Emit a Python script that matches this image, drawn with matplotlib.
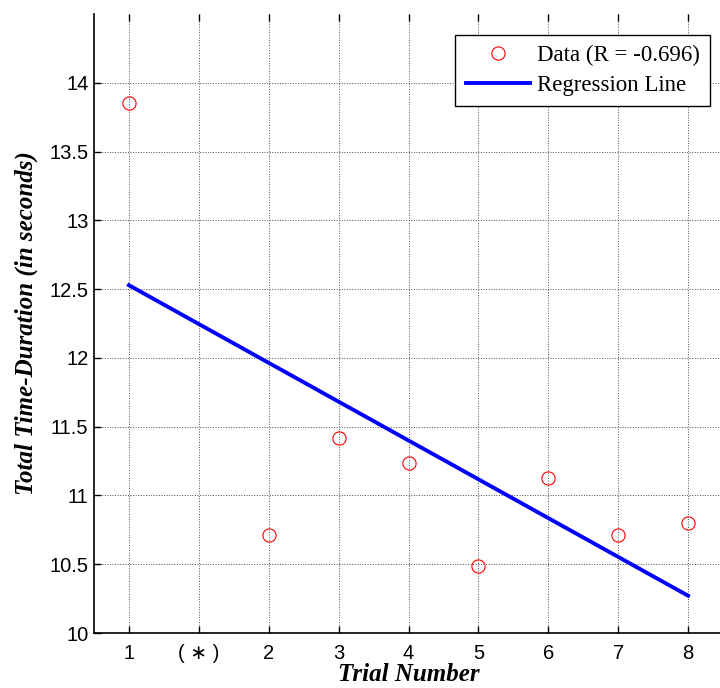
import matplotlib.pyplot as plt
import numpy as np
from matplotlib.ticker import FormatStrFormatter

plt.rcParams['font.family'] = ['Liberation Sans', 'DejaVu Sans']

# x positions: slot 1 is an unlabelled gap marked "(*)"
tick_labels = ['1', '( \u2217 )', '2', '3', '4', '5', '6', '7', '8']
trial_pos = [0, 2, 3, 4, 5, 6, 7, 8]
durations = [13.855, 10.713, 11.42, 11.235, 10.49, 11.128, 10.71, 10.80]
y_ticks = [10, 10.5, 11, 11.5, 12, 12.5, 13, 13.5, 14]

slope, icpt = np.polyfit(trial_pos, durations, 1)
fit_x = np.array([trial_pos[0], trial_pos[-1]])
fit_y = slope * fit_x + icpt

fig = plt.figure(figsize=(7.2, 6.88), dpi=100)
ax = fig.add_axes([94 / 720, 55 / 688, 629 / 720, 619 / 688])

ax.plot(trial_pos, durations, 'o', mfc='none', mec='red', ms=9.5, mew=0.8,
        linestyle='none', label='Data (R = -0.696)')
ax.plot(fit_x, fit_y, '-', color='blue', lw=2.8, label='Regression Line')

ax.set_xlim(-0.5, 8.5)
ax.set_ylim(10, 14.5)
ax.set_xticks(range(len(tick_labels)))
ax.set_xticklabels(tick_labels)
ax.set_yticks(y_ticks)
ax.yaxis.set_major_formatter(FormatStrFormatter('%g'))

ax.set_axisbelow(True)
ax.grid(True, color='0.3', linestyle=':', linewidth=0.7)
ax.spines['top'].set_visible(False)
ax.spines['right'].set_visible(False)
for s in ['left', 'bottom']:
    ax.spines[s].set_linewidth(1.2)
ax.tick_params(direction='in', length=5, width=1, top=True, right=False,
               labelsize=14.5)
ax.tick_params(axis='x', pad=8)
ax.tick_params(axis='y', pad=4)

lab_font = {'family': 'Liberation Serif', 'weight': 'bold', 'style': 'italic', 'size': 18}
ax.set_xlabel('Trial Number', fontdict=lab_font, labelpad=0)
ax.set_ylabel('Total Time-Duration (in seconds)', fontdict=lab_font, labelpad=8)

leg = ax.legend(loc='upper right', bbox_to_anchor=(0.979, 0.966), borderaxespad=0,
                fancybox=False, edgecolor='black', framealpha=1, numpoints=1,
                prop={'family': 'Liberation Serif', 'size': 16.5},
                handlelength=2.8, handletextpad=0.3, labelspacing=0.35,
                borderpad=0.45)
leg.get_frame().set_linewidth(1.0)

fig.savefig('out.png', dpi=100)
